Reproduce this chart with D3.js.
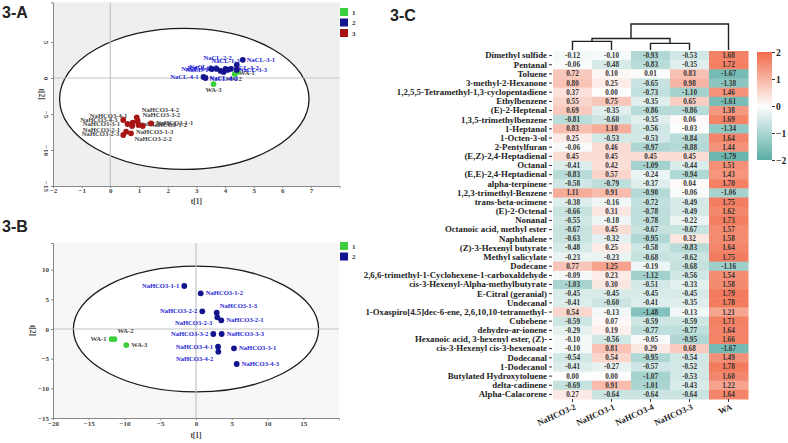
<!DOCTYPE html>
<html><head><meta charset="utf-8">
<script src="https://cdn.jsdelivr.net/npm/d3@7"></script>
<style>body{margin:0;background:#fff}svg{display:block}</style>
</head><body>
<svg id="c" width="788" height="443"></svg>
<script>
// ---------- DATA ----------
const compounds = ["Dimethyl sulfide","Pentanal","Toluene","3-methyl-2-Hexanone","1,2,5,5-Tetramethyl-1,3-cyclopentadiene","Ethylbenzene","(E)-2-Heptenal","1,3,5-trimethylbenzene","1-Heptanol","1-Octen-3-ol","2-Pentylfuran","(E,Z)-2,4-Heptadienal","Octanal","(E,E)-2,4-Heptadienal","alpha-terpinene","1,2,3-trimethyl-Benzene","trans-beta-ocimene","(E)-2-Octenal","Nonanal","Octanoic acid, methyl ester","Naphthalene","(Z)-3-Hexenyl butyrate","Methyl salicylate","Dodecane","2,6,6-trimethyl-1-Cyclohexene-1-carboxaldehyde","cis-3-Hexenyl-Alpha-methylbutyrate","E-Citral (geranial)","Undecanal","1-Oxaspiro[4.5]dec-6-ene, 2,6,10,10-tetramethyl-","Cubebene","dehydro-ar-ionene","Hexanoic acid, 3-hexenyl ester, (Z)-","cis-3-Hexenyl cis-3-hexenoate","Dodecanal","1-Dodecanol","Butylated Hydroxytoluene","delta-cadinene","Alpha-Calacorene"];
const groups = ["NaHCO3-2","NaHCO3-1","NaHCO3-4","NaHCO3-3","WA"];
const zScores = [
[-0.12,-0.10,-0.93,-0.53,1.68],[-0.06,-0.48,-0.83,-0.35,1.72],[0.72,0.10,0.01,0.83,-1.67],[0.80,0.25,-0.65,0.98,-1.38],
[0.37,0.00,-0.73,-1.10,1.46],[0.55,0.75,-0.35,0.65,-1.61],[0.69,-0.35,-0.86,-0.86,1.38],[-0.81,-0.60,-0.35,0.06,1.69],
[0.83,1.10,-0.56,-0.03,-1.34],[0.25,-0.53,-0.53,-0.84,1.64],[-0.06,0.46,-0.97,-0.88,1.44],[0.45,0.45,0.45,0.45,-1.79],
[-0.41,0.42,-1.09,-0.44,1.51],[-0.83,0.57,-0.24,-0.94,1.43],[-0.58,-0.79,-0.37,0.04,1.70],[1.11,0.91,-0.90,-0.06,-1.06],
[-0.38,-0.16,-0.72,-0.49,1.75],[-0.66,0.31,-0.78,-0.49,1.62],[-0.55,-0.18,-0.78,-0.22,1.73],[-0.67,0.45,-0.67,-0.67,1.57],
[-0.63,-0.32,-0.95,0.32,1.58],[-0.48,0.25,-0.58,-0.83,1.64],[-0.23,-0.23,-0.68,-0.62,1.75],[0.77,1.25,-0.19,-0.68,-1.16],
[-0.09,0.23,-1.12,-0.56,1.54],[-1.03,0.30,-0.51,-0.33,1.58],[-0.45,-0.45,-0.45,-0.45,1.79],[-0.41,-0.60,-0.41,-0.35,1.78],
[0.54,-0.13,-1.48,-0.13,1.21],[-0.59,0.07,-0.59,-0.59,1.71],[-0.29,0.19,-0.77,-0.77,1.64],[-0.10,-0.56,-0.05,-0.95,1.66],
[-0.10,0.81,0.29,0.68,-1.67],[-0.54,0.54,-0.95,-0.54,1.49],[-0.41,-0.27,-0.57,-0.52,1.78],[0.00,0.00,-1.07,-0.53,1.60],
[-0.69,0.91,-1.01,-0.43,1.22],[0.27,-0.64,-0.64,-0.64,1.64]];
const colorTicks = [2,1,0,-1,-2];
// dendrogram merges: children are column indices or earlier merge ids; h = linkage height
const dendroMerges = [{id:"m0",a:0,b:1,h:3},{id:"m1",a:2,b:3,h:2.3},{id:"m2",a:"m0",b:"m1",h:4},{id:"m3",a:"m2",b:4,h:9}];

// PCA 3-A scores [name, t1, t2]
const pcaA_class1 = [["WA-1",4.34,0.56],["WA-2",4.44,0.84],["WA-3",3.6,-0.84]];
const pcaA_class2 = [["NaCL-3-1",4.62,2.52],["NaCL-2-2",4.41,1.82],["NaCL-1-3",4.2,1.26],["NaCL-1-1",3.53,1.26],["NaCL-2-1",3.71,1.26],["NaCL-3-3",4.41,1.12],["NaCL-2-3",4.02,1.26],["NaCL-1-2",3.85,0.98],["NaCL-3-2",4.09,1.12],["NaCL-4-3",3.95,0.84],["NaCL-4-1",3.25,0.14],["NaCL-4-2",3.32,0.0]];
const pcaA_class3 = [["NaHCO3-4-1",0.45,-5.83],["NaHCO3-4-3",0.60,-6.39],["NaHCO3-3-1",0.76,-6.67],["NaHCO3-4-2",0.92,-5.46],["NaHCO3-3-2",0.95,-5.93],["NaHCO3-1-1",1.42,-6.29],["NaHCO3-1-2",1.13,-6.67],["NaHCO3-3-3",0.78,-6.21],["NaHCO3-2-1",0.55,-7.46],["NaHCO3-2-3",0.45,-7.92],["NaHCO3-1-3",0.72,-7.68],["NaHCO3-2-2",0.98,-6.53]];
const ellipseA = {cx:2.58, cy:-2.9, rx:4.35, ry:9.8};
const xTicksA = [-2,-1,0,1,2,3,4,5,6,7];
const yTicksA = [5,0,-5,-10,-15];

// PCA 3-B scores
const pcaB_class1 = [["WA-1",-11.8,-1.69],["WA-2",-11.4,-1.69],["WA-3",-9.75,-2.70]];
const pcaB_class2 = [["NaHCO3-1-1",-1.64,7.25],["NaHCO3-1-2",0.66,6.02],["NaHCO3-2-2",0.88,2.98],["NaHCO3-1-3",2.9,2.75],["NaHCO3-2-3",2.98,1.97],["NaHCO3-2-1",3.54,1.46],["NaHCO3-3-2",2.42,-0.84],["NaHCO3-3-3",3.59,-0.84],["NaHCO3-4-1",3.08,-2.98],["NaHCO3-4-2",3.12,-3.82],["NaHCO3-3-1",5.31,-3.26],["NaHCO3-4-3",5.69,-5.9]];
const ellipseB = {cx:0, cy:0, rx:17.15, ry:10.6};
const xTicksB = [-20,-15,-10,-5,0,5,10,15];
const yTicksB = [10,5,0,-5,-10,-15];

// ---------- LABEL PLACEMENT (px offsets from point) ----------
const offA = {"WA-1":[4,1,"start"],"WA-2":[-12,9,"start"],"WA-3":[0,8,"middle"],
"NaCL-3-1":[4,2,"start"],"NaCL-2-2":[-5,-5,"end"],"NaCL-1-3":[9,-6,"end"],"NaCL-1-1":[-2,2,"end"],"NaCL-2-1":[-1,1,"end"],
"NaCL-3-3":[2,2,"start"],"NaCL-2-3":[-8,0,"end"],"NaCL-1-2":[-7,1,"end"],"NaCL-3-2":[3,0,"start"],"NaCL-4-3":[-14,8,"start"],
"NaCL-4-1":[-5,2,"end"],"NaCL-4-2":[4,3,"start"],
"NaHCO3-4-1":[4,-2,"end"],"NaHCO3-4-3":[-10,-2,"end"],"NaHCO3-3-1":[-12,0,"end"],"NaHCO3-4-2":[5,-5,"start"],"NaHCO3-3-2":[5,-4,"start"],
"NaHCO3-1-1":[5,2,"start"],"NaHCO3-1-2":[7,1,"start"],"NaHCO3-3-3":[6,3,"start"],"NaHCO3-2-1":[-6,0,"end"],"NaHCO3-2-3":[-4,1,"end"],
"NaHCO3-1-3":[5,1,"start"],"NaHCO3-2-2":[-4,16,"start"]};
const offB = {"WA-1":[-5,2,"end"],"WA-2":[3,-6,"start"],"WA-3":[5,2,"start"],
"NaHCO3-1-1":[-5,2,"end"],"NaHCO3-1-2":[5,2,"start"],"NaHCO3-2-2":[-5,2,"end"],"NaHCO3-1-3":[3,-5,"start"],
"NaHCO3-2-3":[-5,8,"end"],"NaHCO3-2-1":[5,2,"start"],"NaHCO3-3-2":[-5,2,"end"],"NaHCO3-3-3":[5,2,"start"],
"NaHCO3-4-1":[-5,2,"end"],"NaHCO3-4-2":[-5,9,"end"],"NaHCO3-3-1":[5,2,"start"],"NaHCO3-4-3":[5,2,"start"]};

// ---------- DRAW ----------
const svg = d3.select("#c");
const SERIF = "'Liberation Serif','Times New Roman',serif";
const SANS = "'Liberation Sans',Arial,sans-serif";
const GREEN="#3ccf3c", BLUE="#14148f", RED="#a81414";

function title(x,y,t){svg.append("text").attr("x",x).attr("y",y).text(t)
  .attr("font-family",SANS).attr("font-weight","bold").attr("font-size",16).attr("fill","#222");}
title(2,18,"3-A"); title(2,232,"3-B"); title(390,21,"3-C");

function scatter(cfg){
  const {xd,yd,xr,yr,bg,ell,classes,xt,yt,off,rotY,legendY,labelColors,yLabX,yTickX,xTickY,xLabY} = cfg;
  const x = d3.scaleLinear().domain(xd).range(xr);
  const y = d3.scaleLinear().domain(yd).range(yr);
  const g = svg.append("g");
  const clipId = "clip"+Math.round(yr[1]);
  g.append("clipPath").attr("id",clipId).append("rect")
    .attr("x",xr[0]).attr("y",yr[1]).attr("width",xr[1]-xr[0]).attr("height",yr[0]-yr[1]);
  g.append("rect").attr("x",xr[0]).attr("y",yr[1]).attr("width",xr[1]-xr[0]).attr("height",yr[0]-yr[1]).attr("fill",bg);
  g.append("ellipse").attr("clip-path",`url(#${clipId})`)
    .attr("cx",x(ell.cx)).attr("cy",y(ell.cy))
    .attr("rx",x(ell.cx+ell.rx)-x(ell.cx)).attr("ry",y(ell.cy)-y(ell.cy+ell.ry))
    .attr("fill","#fff").attr("stroke","#1a1a1a").attr("stroke-width",1.3);
  g.append("line").attr("x1",x(0)).attr("x2",x(0)).attr("y1",yr[0]).attr("y2",yr[1]).attr("stroke","#c4c4c4").attr("stroke-width",1.2);
  g.append("line").attr("x1",xr[0]).attr("x2",xr[1]).attr("y1",y(0)).attr("y2",y(0)).attr("stroke","#c4c4c4").attr("stroke-width",1.2);
  const ax = g.append("g").attr("transform",`translate(0,${yr[0]})`).call(d3.axisBottom(x).tickValues(xt).tickSize(2).tickFormat(d3.format("d")));
  const ay = g.append("g").attr("transform",`translate(${xr[0]},0)`).call(d3.axisLeft(y).tickValues(yt).tickSize(2).tickFormat(d3.format("d")));
  [ax,ay].forEach(a=>{a.select(".domain").attr("stroke","#888");a.selectAll(".tick line").attr("stroke","#888");
    a.selectAll("text").attr("font-family",SERIF).attr("font-size",7).attr("font-weight","bold").attr("fill","#444");});
  ax.selectAll("text").attr("y",xTickY).attr("dy",null);
  if(rotY){
    ay.selectAll("text").attr("x",null).attr("dy",null).attr("text-anchor","middle")
      .attr("transform",`translate(${yTickX},0) rotate(90)`).attr("y",0);
  } else {
    ay.selectAll("text").attr("x",yTickX).attr("dy","0.32em");
  }
  g.append("text").attr("transform",`translate(${(xr[0]+xr[1])/2},${xLabY})`).attr("text-anchor","middle")
    .attr("font-family",SERIF).attr("font-size",7.5).attr("font-weight","bold").attr("fill","#444").text("t[1]");
  g.append("text").attr("transform",`translate(${yLabX},${(yr[0]+yr[1])/2}) rotate(90)`).attr("text-anchor","middle")
    .attr("font-family",SERIF).attr("font-size",7.5).attr("font-weight","bold").attr("fill","#444").text("t[2]");
  classes.forEach((cl,i)=>{
    g.append("g").selectAll("text").data(cl.data).join("text")
      .attr("x",d=>x(d[1])+off[d[0]][0]).attr("y",d=>y(d[2])+off[d[0]][1])
      .attr("text-anchor",d=>off[d[0]][2])
      .attr("font-family",SERIF).attr("font-size",6.6).attr("font-weight","bold")
      .attr("fill",labelColors[i]).text(d=>d[0]);
  });
  classes.forEach(cl=>{
    g.append("g").selectAll("circle").data(cl.data).join("circle")
      .attr("cx",d=>x(d[1])).attr("cy",d=>y(d[2])).attr("r",2.9).attr("fill",cl.color);
  });
  classes.forEach((cl,i)=>{
    g.append("rect").attr("x",340).attr("y",legendY+i*10.5).attr("width",8).attr("height",8).attr("fill",cl.color);
    g.append("text").attr("x",352).attr("y",legendY+i*10.5+6.5).attr("font-family",SERIF).attr("font-size",7)
      .attr("font-weight","bold").attr("fill","#333").text(String(i+1));
  });
}

scatter({xd:[-2,8],yd:[-15,10.5],xr:[53,339.7],yr:[186,2.4],bg:"#efefef",ell:ellipseA,
  classes:[{data:pcaA_class1,color:GREEN},{data:pcaA_class2,color:BLUE},{data:pcaA_class3,color:RED}],
  xt:xTicksA,yt:yTicksA,off:offA,rotY:true,legendY:8,labelColors:["#444","#2626d6","#444"],
  yLabX:39,yTickX:-9,xTickY:7,xLabY:204});

scatter({xd:[-20,20],yd:[-15,14.5],xr:[53,339],yr:[418,243],bg:"#f7f7f7",ell:ellipseB,
  classes:[{data:pcaB_class1,color:GREEN},{data:pcaB_class2,color:BLUE}],
  xt:xTicksB,yt:yTicksB,off:offB,rotY:false,legendY:242,labelColors:["#444","#2626d6"],
  yLabX:30,yTickX:-4,xTickY:8,xLabY:438});

// ---------- HEATMAP ----------
const HTOP = 51, HBOT = 399;
const hx = d3.scaleBand().domain(d3.range(groups.length)).range([553,748]);
const hy = d3.scaleBand().domain(d3.range(compounds.length)).range([HTOP,HBOT]);
const color = d3.scaleLinear().domain([-2,0,2]).range(["#5aaea6","#fdfdfd","#f26b4a"]);
const hg = svg.append("g");
zScores.forEach((row,i)=>{
  row.forEach((v,j)=>{
    hg.append("rect").attr("x",hx(j)).attr("y",hy(i)).attr("width",hx.bandwidth()+0.5).attr("height",hy.bandwidth()+0.5).attr("fill",color(v));
    hg.append("text").attr("x",hx(j)+hx.bandwidth()/2).attr("y",hy(i)+hy.bandwidth()/2).attr("dy","0.35em")
      .attr("text-anchor","middle").attr("font-family",SERIF).attr("font-size",7.2).attr("font-weight","bold")
      .attr("fill","#333").text(v.toFixed(2));
  });
});
const ya = hg.append("g").attr("transform","translate(552,0)")
  .call(d3.axisLeft(d3.scaleBand().domain(compounds).range([HTOP,HBOT])).tickSize(3).tickPadding(2));
ya.select(".domain").remove();
ya.selectAll(".tick line").attr("stroke","#333");
ya.selectAll("text").attr("font-family",SERIF).attr("font-size",8.8).attr("font-weight","bold").attr("fill","#222");
const xa = hg.append("g").attr("transform",`translate(0,${HBOT})`)
  .call(d3.axisBottom(d3.scaleBand().domain(groups).range([553,748])).tickSize(3));
xa.select(".domain").remove();
xa.selectAll(".tick line").attr("stroke","#333");
xa.selectAll("text").attr("font-family",SERIF).attr("font-size",8.5).attr("font-weight","bold").attr("fill","#222")
  .attr("text-anchor","end").attr("y",0).attr("dy",null).attr("transform","translate(4,10) rotate(-24)");

// dendrogram
const hScale = d3.scaleLinear().domain([0,9]).range([HTOP-1,24]);
const nodes = {};
groups.forEach((g,j)=>{nodes[j]={x:hx(j)+hx.bandwidth()/2,y:hScale(0)};});
dendroMerges.forEach(m=>{
  const A=nodes[m.a],B=nodes[m.b],yh=hScale(m.h);
  hg.append("path").attr("d",`M${A.x},${A.y}V${yh}H${B.x}V${B.y}`).attr("fill","none").attr("stroke","#222").attr("stroke-width",1.4);
  nodes[m.id]={x:(A.x+B.x)/2,y:yh};
});

// colour bar
const defs = svg.append("defs");
const grad = defs.append("linearGradient").attr("id","cbar").attr("x1",0).attr("x2",0).attr("y1",0).attr("y2",1);
d3.range(0,1.0001,0.1).forEach(t=>grad.append("stop").attr("offset",t).attr("stop-color",color(2-4*t)));
const cy = d3.scaleLinear().domain([2,-2]).range([52,160]);
svg.append("rect").attr("x",757).attr("y",52).attr("width",15).attr("height",108).attr("fill","url(#cbar)");
const ca = svg.append("g").attr("transform","translate(772,0)").call(d3.axisRight(cy).tickValues(colorTicks).tickSize(3).tickPadding(1).tickFormat(d3.format("d")));
ca.select(".domain").remove();
ca.selectAll(".tick line").attr("stroke","#333");
ca.selectAll("text").attr("font-family",SERIF).attr("font-size",9.5).attr("font-weight","bold").attr("fill","#222");
</script>
</body></html>
